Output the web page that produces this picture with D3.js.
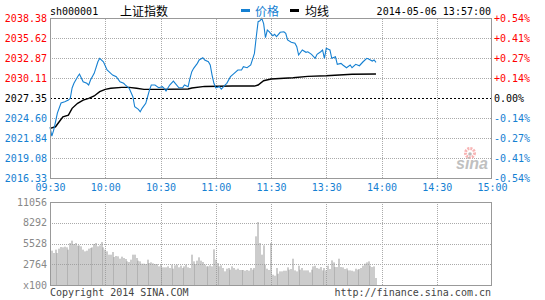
<!DOCTYPE html>
<html>
<head>
<meta charset="utf-8">
<script src="https://cdn.jsdelivr.net/npm/d3@7"></script>
<style>
  body { margin: 0; background: #fff; }
  svg text { font-family: "DejaVu Sans Mono", monospace; font-size: 10px; }
</style>
</head>
<body>
<svg id="chart" width="545" height="300"></svg>
<script>
// tick labels
const priceTicks = [2016.33, 2019.08, 2021.84, 2024.60, 2027.35, 2030.11, 2032.87, 2035.62, 2038.38];
const pctLabels = ['-0.54%', '-0.41%', '-0.27%', '-0.14%', '0.00%', '+0.14%', '+0.27%', '+0.41%', '+0.54%'];
const timeTicks = [0, 30, 60, 90, 120, 150, 180, 210, 240];
const timeLabels = ['09:30', '10:00', '10:30', '11:00', '11:30', '13:30', '14:00', '14:30', '15:00'];
const volTicks = [0, 2764, 5528, 8292, 11056];
const volLabels = ['x100', '2764', '5528', '8292', '11056'];
const prevClose = 2027.35;

// price line, minute index from 09:30 (afternoon continues at 121 = 13:01)
const priceMin = [0, 1, 2, 3, 4, 6, 8, 10, 11, 12, 13, 15, 16, 18, 20, 21, 22, 24, 26, 27, 29, 31, 32, 34, 36, 38, 40, 41, 43, 45,
  46, 48, 49, 50, 52, 53, 54, 55, 57, 59, 61, 62, 63, 65, 67, 68, 70, 72, 73, 75, 76, 77, 78, 80, 81, 83, 84, 86, 87, 88,
  89, 90, 92, 93, 95, 96, 98, 100, 102, 104, 105, 107, 109, 111, 112, 113, 114, 115, 116, 117, 118, 119, 120, 121, 122, 123, 125, 127, 128, 129,
  131, 133, 134, 135, 137, 139, 140, 142, 144, 145, 147, 148, 149, 150, 152, 153, 155, 156, 158, 159, 161, 163, 164, 166, 168, 170, 172, 173, 175, 176, 177];
const priceVal = [2023.35, 2022.11, 2022.94, 2024.08, 2025.28, 2026.66, 2026.84, 2027.07, 2027.31, 2028.73, 2029.38, 2030.29, 2030.66, 2029.60, 2029.38, 2029.14, 2029.83, 2030.75, 2032.35, 2032.82, 2032.35, 2031.21, 2030.98, 2030.52, 2030.29, 2029.60, 2029.38, 2029.14, 2028.69, 2027.53,
  2026.15, 2025.79, 2025.46, 2025.93, 2026.62, 2027.53, 2028.45, 2029.14, 2029.14, 2028.77, 2028.91, 2028.69, 2028.31, 2029.14, 2029.69, 2029.38, 2028.77, 2028.77, 2029.14, 2028.91, 2030.07, 2030.98, 2031.44, 2032.13, 2032.59, 2032.91, 2032.59, 2032.35, 2031.90, 2030.52,
  2029.38, 2028.77, 2028.91, 2028.59, 2029.14, 2029.38, 2030.29, 2030.75, 2031.21, 2031.21, 2031.66, 2031.53, 2031.90, 2033.50, 2035.80, 2037.87, 2038.00, 2038.34, 2037.60, 2035.66, 2036.72, 2036.49, 2036.20, 2035.94, 2036.13, 2035.80, 2036.41, 2036.49, 2036.27, 2035.35,
  2035.03, 2034.89, 2034.42, 2033.28, 2033.97, 2033.65, 2033.73, 2033.37, 2032.82, 2033.37, 2033.73, 2033.97, 2032.82, 2034.20, 2033.97, 2032.82, 2033.04, 2032.00, 2032.13, 2031.90, 2031.53, 2031.90, 2031.53, 2032.00, 2031.80, 2032.35, 2032.82, 2032.73, 2032.45, 2032.59, 2032.27];

// average price line
const avgMin = [0, 3, 5, 7, 10, 12, 15, 18, 21, 24, 27, 30, 33, 39, 43, 47, 51, 59, 75, 77, 84, 99, 111, 113, 116, 120, 127, 132, 140, 150, 164, 177];
const avgVal = [2023.17, 2023.39, 2024.08, 2024.77, 2025.00, 2025.93, 2026.62, 2027.07, 2027.31, 2027.63, 2028.22, 2028.55, 2028.69, 2028.82, 2028.82, 2028.69, 2028.55, 2028.55, 2028.59, 2028.73, 2028.95, 2029.00, 2029.00, 2029.14, 2029.73, 2029.97, 2030.07, 2030.15, 2030.34, 2030.42, 2030.62, 2030.66];

// volume per minute (x100), first bar is 09:31
const volume = [4573, 4262, 4706, 4262, 4840, 5062, 5017, 5106, 5017, 4706, 5594, 5905, 5461, 5594, 5239, 5284, 5150, 4706, 4484, 4573,
  4840, 4928, 5017, 5461, 5594, 5150, 5284, 5728, 5017, 4706, 4484, 4040, 4040, 4396, 3730, 3863, 3818, 3508, 3774, 3596,
  3463, 3152, 3064, 3374, 4040, 4040, 3596, 3241, 3152, 2842, 2842, 2797, 3374, 2930, 3019, 2886, 2797, 2797, 2486, 2708,
  2353, 2353, 2353, 2486, 2264, 2708, 2176, 2620, 2708, 2353, 2575, 2264, 2486, 2708, 2353, 2264, 4040, 3152, 2797, 3241,
  3685, 3241, 3064, 2708, 2486, 2486, 2620, 2486, 4751, 3374, 2930, 2486, 2620, 2264, 1820, 2176, 2264, 2042, 2486, 2264,
  2042, 2176, 1998, 1998, 1998, 1909, 1998, 1909, 2264, 2042, 2264, 6482, 8392, 5594, 4040, 5284, 2708, 2175, 2000, 5594,
  1372, 1239, 2264, 1505, 1816, 1816, 1905, 1905, 2348, 2038, 2127, 3503, 1949, 1816, 2571, 2038, 2264, 1949, 1949, 1949,
  1683, 2038, 2482, 2571, 2264, 2171, 2393, 1949, 2264, 1949, 2571, 2127, 3281, 3015, 2393, 2393, 3503, 2393, 2348, 2127,
  2215, 1949, 1949, 1905, 1816, 2171, 2038, 2127, 2264, 2571, 2837, 3015, 3148, 2571, 2393, 2482, 932];

const blue = '#1580d2';
const red = '#ff0000';
const left = 50, right = 492;
const mainTop = 18, mainBottom = 178;
const volTop = 202, volBottom = 285;

const svg = d3.select('#chart');

const x = d3.scaleLinear().domain([0, 240]).range([left, right]);
const y = d3.scaleLinear().domain([priceTicks[0], priceTicks[priceTicks.length - 1]]).range([mainBottom, mainTop]);
const yv = d3.scaleLinear().domain([0, 11056]).range([volBottom, volTop]);

const dotted = '1,1';
const gridColor = '#aaa';

// grids
function vGrid(top, bottom) {
  svg.append('g')
    .attr('transform', 'translate(0,' + bottom + ')')
    .call(d3.axisBottom(x).tickValues(timeTicks.slice(1, -1)).tickSize(-(bottom - top)).tickFormat(''))
    .call(g => g.select('.domain').remove())
    .call(g => g.selectAll('line').attr('stroke', gridColor).attr('stroke-dasharray', dotted).attr('shape-rendering', 'crispEdges'));
}
vGrid(mainTop, mainBottom);
vGrid(volTop, volBottom);

svg.append('g')
  .attr('transform', 'translate(' + left + ',0)')
  .call(d3.axisLeft(y).tickValues(priceTicks.slice(1, -1).filter(d => d !== prevClose)).tickSize(-(right - left)).tickFormat(''))
  .call(g => g.select('.domain').remove())
  .call(g => g.selectAll('line').attr('stroke', gridColor).attr('stroke-dasharray', dotted).attr('shape-rendering', 'crispEdges'));

svg.append('g')
  .attr('transform', 'translate(' + left + ',0)')
  .call(d3.axisLeft(yv).tickValues(volTicks.slice(1, -1)).tickSize(-(right - left)).tickFormat(''))
  .call(g => g.select('.domain').remove())
  .call(g => g.selectAll('line').attr('stroke', gridColor).attr('stroke-dasharray', dotted).attr('shape-rendering', 'crispEdges'));

// previous close
svg.append('line')
  .attr('x1', left).attr('x2', right)
  .attr('y1', Math.round(y(prevClose)) + 0.5).attr('y2', Math.round(y(prevClose)) + 0.5)
  .attr('stroke', '#000').attr('stroke-dasharray', '2,2');

// sina watermark
const wm = svg.append('g').attr('transform', 'translate(456,148)');
wm.append('circle').attr('cx', 14).attr('cy', 5).attr('r', 4.5)
  .attr('fill', 'none').attr('stroke', '#f7b4b4').attr('stroke-width', 3).attr('stroke-dasharray', '2,1');
wm.append('circle').attr('cx', 14).attr('cy', 6).attr('r', 1.8).attr('fill', '#bbb');
wm.append('text').attr('x', 0).attr('y', 21)
  .style('font-family', 'Arial, "Liberation Sans", sans-serif')
  .style('font-size', '16px').style('font-weight', 'bold').style('font-style', 'italic')
  .attr('fill', '#c0c0c0').text('sina');

// volume bars
svg.append('g')
  .selectAll('rect')
  .data(volume)
  .join('rect')
  .attr('x', (d, i) => Math.round(x(i + 1)) - 0.5)
  .attr('y', d => yv(d))
  .attr('width', 1)
  .attr('height', d => volBottom - yv(d))
  .attr('fill', '#999');

// lines
const avgLine = d3.line().x(d => x(d[0])).y(d => y(d[1]));
svg.append('path')
  .datum(d3.zip(avgMin, avgVal))
  .attr('d', avgLine)
  .attr('fill', 'none').attr('stroke', '#000').attr('stroke-width', 1.4);

svg.append('path')
  .datum(d3.zip(priceMin, priceVal))
  .attr('d', avgLine)
  .attr('fill', 'none').attr('stroke', blue).attr('stroke-width', 1.1);

// frames
[[mainTop, mainBottom], [volTop, volBottom]].forEach(function(p) {
  svg.append('rect')
    .attr('x', left + 0.5).attr('y', p[0] + 0.5)
    .attr('width', right - left - 1).attr('height', p[1] - p[0])
    .attr('fill', 'none').attr('stroke', '#999');
});

// left price labels
svg.append('g')
  .attr('transform', 'translate(' + (left - 3) + ',0)')
  .call(d3.axisLeft(y).tickValues(priceTicks).tickSize(0).tickPadding(0).tickFormat(d3.format('.2f')))
  .call(g => g.select('.domain').remove())
  .call(g => g.selectAll('text')
    .style('font-family', '"DejaVu Sans Mono", monospace').style('font-size', '10px')
    .attr('fill', d => d > prevClose ? red : (d < prevClose ? blue : '#000')));

// right percent labels
svg.append('g')
  .attr('transform', 'translate(' + (right + 2) + ',0)')
  .call(d3.axisRight(y).tickValues(priceTicks).tickSize(0).tickPadding(0).tickFormat((d, i) => pctLabels[i]))
  .call(g => g.select('.domain').remove())
  .call(g => g.selectAll('text')
    .style('font-family', '"DejaVu Sans Mono", monospace').style('font-size', '10px')
    .attr('fill', d => d > prevClose ? red : (d < prevClose ? blue : '#000')));

// time labels
svg.append('g')
  .attr('transform', 'translate(0,' + (mainBottom + 6) + ')')
  .call(d3.axisBottom(x).tickValues(timeTicks).tickSize(0).tickPadding(0).tickFormat((d, i) => timeLabels[i]))
  .call(g => g.select('.domain').remove())
  .call(g => g.selectAll('text')
    .style('font-family', '"DejaVu Sans Mono", monospace').style('font-size', '10px')
    .attr('fill', blue));

// volume labels
svg.append('g')
  .attr('transform', 'translate(' + (left - 3) + ',0)')
  .call(d3.axisLeft(yv).tickValues(volTicks).tickSize(0).tickPadding(0).tickFormat((d, i) => volLabels[i]))
  .call(g => g.select('.domain').remove())
  .call(g => g.selectAll('text')
    .style('font-family', '"DejaVu Sans Mono", monospace').style('font-size', '10px')
    .attr('fill', '#888'));

// header
svg.append('text').attr('x', 50).attr('y', 15).attr('fill', '#000').text('sh000001');
svg.append('text').attr('x', 120).attr('y', 15.5).attr('fill', '#000')
  .style('font-family', '"Noto Sans CJK SC", sans-serif').style('font-size', '12px').text('上证指数');

svg.append('rect').attr('x', 241).attr('y', 9).attr('width', 9).attr('height', 3).attr('fill', blue);
svg.append('text').attr('x', 255).attr('y', 15.5).attr('fill', blue)
  .style('font-family', '"Noto Sans CJK SC", sans-serif').style('font-size', '12px').text('价格');
svg.append('rect').attr('x', 290).attr('y', 9).attr('width', 9).attr('height', 3).attr('fill', '#000');
svg.append('text').attr('x', 305).attr('y', 15.5).attr('fill', '#000')
  .style('font-family', '"Noto Sans CJK SC", sans-serif').style('font-size', '12px').text('均线');

svg.append('text').attr('x', 491).attr('y', 15).attr('text-anchor', 'end').attr('fill', '#000')
  .text('2014-05-06 13:57:00');

// footer
svg.append('text').attr('x', 50).attr('y', 296).attr('fill', '#444').text('Copyright 2014 SINA.COM');
svg.append('text').attr('x', 491).attr('y', 296).attr('text-anchor', 'end').attr('fill', '#444')
  .text('http://finance.sina.com.cn');
</script>
</body>
</html>
